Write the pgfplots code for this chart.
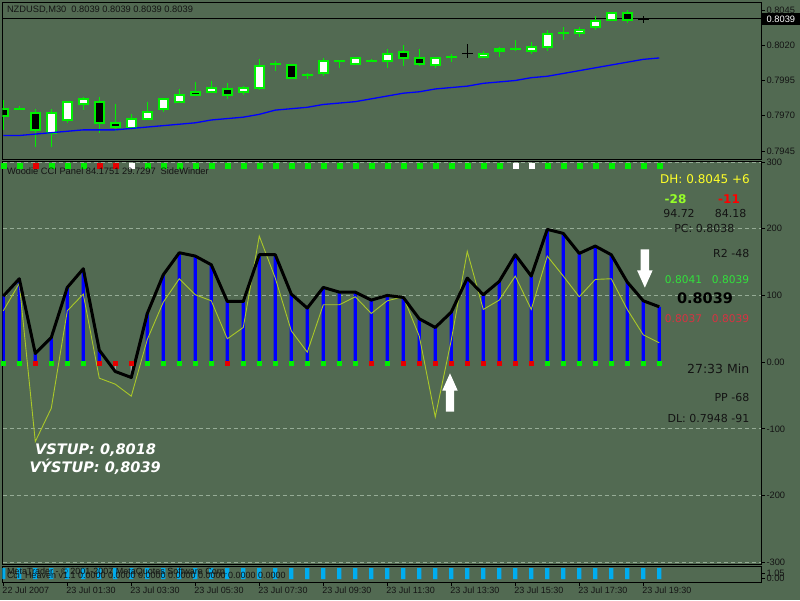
\documentclass[border=0pt]{standalone}
\usepackage{pgfplots}
\pgfplotsset{compat=1.18}
\usepackage{pgfplotstable}
\usepackage{fontspec}
\setmainfont{Liberation Sans}
\newfontfamily\dv{DejaVu Sans}

\definecolor{bg}{RGB}{82,106,82}
\definecolor{cgreen}{RGB}{0,240,0}
\definecolor{sqgreen}{RGB}{0,240,0}
\definecolor{sqred}{RGB}{230,0,0}
\definecolor{turbo}{RGB}{170,200,40}
\definecolor{gridc}{RGB}{150,172,150}
\definecolor{txt}{RGB}{20,20,20}
\definecolor{pcgreen}{RGB}{50,225,60}
\definecolor{pcred}{RGB}{215,50,65}
\definecolor{dhyellow}{RGB}{255,255,40}
\definecolor{lime28}{RGB}{150,255,40}

% signal arrows, 1pt = 1px
\pgfdeclareplotmark{arrowup}{%
  \pgfpathmoveto{\pgfqpoint{-4.2pt}{-19.2pt}}%
  \pgfpathlineto{\pgfqpoint{4.2pt}{-19.2pt}}%
  \pgfpathlineto{\pgfqpoint{4.2pt}{2pt}}%
  \pgfpathlineto{\pgfqpoint{7.7pt}{2pt}}%
  \pgfpathlineto{\pgfqpoint{0pt}{19.2pt}}%
  \pgfpathlineto{\pgfqpoint{-7.7pt}{2pt}}%
  \pgfpathlineto{\pgfqpoint{-4.2pt}{2pt}}%
  \pgfpathclose\pgfusepathqfill}
\pgfdeclareplotmark{arrowdown}{%
  \pgfpathmoveto{\pgfqpoint{-4.2pt}{19.2pt}}%
  \pgfpathlineto{\pgfqpoint{4.2pt}{19.2pt}}%
  \pgfpathlineto{\pgfqpoint{4.2pt}{-2pt}}%
  \pgfpathlineto{\pgfqpoint{7.7pt}{-2pt}}%
  \pgfpathlineto{\pgfqpoint{0pt}{-19.2pt}}%
  \pgfpathlineto{\pgfqpoint{-7.7pt}{-2pt}}%
  \pgfpathlineto{\pgfqpoint{-4.2pt}{-2pt}}%
  \pgfpathclose\pgfusepathqfill}

% candles: bar index, open, high, low, close
\pgfplotstableread{
k o h l c
1 0.7975 0.7977 0.7974 0.7975
3 0.7958 0.7975 0.7948 0.7972
4 0.7967 0.7980 0.7965 0.7980
5 0.7978 0.7983 0.7974 0.7982
8 0.7961 0.7971 0.7961 0.7968
9 0.7968 0.7980 0.7967 0.7973
10 0.7975 0.7982 0.7973 0.7982
11 0.7980 0.7989 0.7980 0.7985
13 0.7987 0.7995 0.7987 0.7990
15 0.7987 0.7991 0.7985 0.7990
16 0.7990 0.8010 0.7988 0.8005
17 0.8007 0.8009 0.8002 0.8007
19 0.7999 0.8000 0.7996 0.7999
20 0.8000 0.8011 0.7998 0.8009
21 0.8009 0.8009 0.8004 0.8009
22 0.8007 0.8012 0.8006 0.8011
23 0.8009 0.8010 0.8008 0.8009
24 0.8009 0.8017 0.8004 0.8014
27 0.8006 0.8012 0.8004 0.8011
28 0.8012 0.8014 0.8008 0.8012
30 0.8012 0.8016 0.8011 0.8014
31 0.8016 0.8019 0.8012 0.8017
32 0.8017 0.8024 0.8016 0.8017
33 0.8016 0.8022 0.8014 0.8019
34 0.8019 0.8031 0.8016 0.8028
35 0.8029 0.8033 0.8024 0.8029
36 0.8029 0.8033 0.8026 0.8031
37 0.8033 0.8041 0.8031 0.8037
38 0.8038 0.8043 0.8038 0.8043
}\bull
\pgfplotstableread{
k o h l c
0 0.7975 0.7981 0.7960 0.7970
2 0.7972 0.7975 0.7948 0.7960
6 0.7980 0.7983 0.7958 0.7965
7 0.7965 0.7978 0.7959 0.7962
12 0.7987 0.7994 0.7985 0.7985
14 0.7989 0.7993 0.7982 0.7985
18 0.8006 0.8006 0.7997 0.7997
25 0.8015 0.8020 0.8005 0.8011
26 0.8011 0.8017 0.8005 0.8007
39 0.8043 0.8045 0.8036 0.8038
}\bear
\pgfplotstableread{
k o h l c
29 0.8014 0.8021 0.8011 0.8014
40 0.8038 0.8041 0.8036 0.8038
}\doji
\pgfplotstableread{
k ma
0 0.7956
1 0.7956
2 0.7957
3 0.7958
4 0.7959
5 0.7960
6 0.7960
7 0.7960
8 0.7961
9 0.7962
10 0.7963
11 0.7964
12 0.7965
13 0.7967
14 0.7968
15 0.7969
16 0.7971
17 0.7974
18 0.7975
19 0.7976
20 0.7978
21 0.7979
22 0.7980
23 0.7982
24 0.7984
25 0.7986
26 0.7987
27 0.7989
28 0.7990
29 0.7991
30 0.7993
31 0.7994
32 0.7995
33 0.7997
34 0.7998
35 0.8000
36 0.8002
37 0.8004
38 0.8006
39 0.8008
40 0.8010
41 0.8011
}\ma
% Woodie CCI and turbo CCI
\pgfplotstableread{
k cci turbo
0 99 77
1 125 118
2 13 -119
3 37 -69
4 112 77
5 140 102
6 18 -24
7 -14 -33
8 -23 -51
9 73 34
10 131 90
11 164 125
12 159 101
13 146 92
14 91 35
15 91 52
16 161 189
17 161 126
18 102 47
19 81 15
20 112 86
21 105 86
22 105 98
23 93 73
24 100 92
25 97 98
26 65 39
27 52 -82
28 75 33
29 126 166
30 101 79
31 121 93
32 161 129
33 129 79
34 199 159
35 193 129
36 163 98
37 174 124
38 161 125
39 120 79
40 92 41
41 83 29
}\cci
% signal squares: top row (v=295) and zero row
\pgfplotstableread{
k c
0 g
1 g
2 r
3 g
4 g
5 g
6 r
7 r
8 w
9 g
10 g
11 g
12 g
13 g
14 g
15 g
16 g
17 g
18 g
19 g
20 g
21 g
22 g
23 g
24 g
25 g
26 g
27 g
28 g
29 g
30 g
31 g
32 w
33 w
34 g
35 g
36 g
37 g
38 g
39 g
40 g
41 g
}\sqtop
\pgfplotstableread{
k c
0 g
1 g
2 r
3 g
4 g
5 g
6 r
7 r
8 r
9 g
10 g
11 g
12 g
13 g
14 r
15 g
16 g
17 g
18 g
19 g
20 g
21 g
22 g
23 r
24 g
25 r
26 r
27 r
28 r
29 r
30 r
31 r
32 r
33 r
34 g
35 g
36 g
37 g
38 g
39 g
40 g
41 g
}\sqbot

\pgfplotsset{
  mtpanel/.style={
    scale only axis, width=758.5pt, anchor=north west,
    xmin=-0.05, xmax=47.36,
    axis line style={black, line width=0.9pt},
    tick style={black, line width=0.8pt},
    major tick length=4pt, tick align=outside,
    ytick pos=right, yticklabel pos=right,
    yticklabel style={font=\fontsize{9.3}{10}\selectfont, text=txt, xshift=-2pt},
    xtick=\empty,
  },
  wick/.style={only marks, mark size=0pt, mark options={draw=none, fill=none},
    error bars/.cd, y dir=plus, y explicit,
    error mark=none, error bar style={line width=1.2pt, color=#1}},
  body/.style 2 args={only marks, mark size=0pt, mark options={draw=none, fill=none},
    error bars/.cd, y dir=plus, y explicit,
    error mark=none, error bar style={line width=#1, color=#2}},
}

\begin{document}
\begin{tikzpicture}
\path[use as bounding box, fill=bg] (0pt,0pt) rectangle (800pt,-600pt);

% price panel
\begin{axis}[mtpanel, at={(2.5pt,-2.5pt)}, height=156.5pt,
  ymin=0.793933, ymax=0.805032, scaled y ticks=false,
  ytick={0.7945,0.7970,0.7995,0.8020,0.8045},
  yticklabels={0.7945,0.7970,0.7995,0.8020,0.8045}]
\addplot[black, line width=1pt] coordinates {(-1,0.8039) (48,0.8039)};
\addplot[wick=cgreen] table[x=k, y=l, y error plus expr={\thisrow{h}-\thisrow{l}}] {\bull};
\addplot[wick=cgreen] table[x=k, y=l, y error plus expr={\thisrow{h}-\thisrow{l}}] {\bear};
\addplot[wick=black] table[x=k, y=l, y error plus expr={\thisrow{h}-\thisrow{l}}] {\doji};
\addplot[body={10.7pt}{cgreen}] table[x=k, y expr={min(\thisrow{o},\thisrow{c})-0.00007},
  y error plus expr={abs(\thisrow{c}-\thisrow{o})+0.00014}] {\bull};
\addplot[body={10.7pt}{cgreen}] table[x=k, y expr={min(\thisrow{o},\thisrow{c})-0.00007},
  y error plus expr={abs(\thisrow{c}-\thisrow{o})+0.00014}] {\bear};
\addplot[body={6.7pt}{white}] table[x=k, y expr={min(\thisrow{o},\thisrow{c})+0.00007},
  y error plus expr={max(abs(\thisrow{c}-\thisrow{o})-0.00014,0)}] {\bull};
\addplot[body={6.7pt}{black}] table[x=k, y expr={min(\thisrow{o},\thisrow{c})+0.00007},
  y error plus expr={max(abs(\thisrow{c}-\thisrow{o})-0.00014,0)}] {\bear};
\addplot[body={10.7pt}{black}] table[x=k, y expr={\thisrow{c}-0.00004},
  y error plus expr={0.00008}] {\doji};
\addplot[blue, line width=1.3pt] table[x=k, y=ma] {\ma};
\end{axis}

% Woodie CCI panel
\begin{axis}[mtpanel, at={(2.5pt,-161pt)}, height=403.5pt,
  ymin=-303.3, ymax=301.5,
  ytick={-300,-200,-100,100,200,300},
  yticklabels={-300,-200,-100,100,200,300},
  ymajorgrids, major grid style={gridc, line width=0.8pt, dash pattern=on 4pt off 3pt},
  extra y ticks={0}, extra y tick labels={0.00},
  extra y tick style={grid=none}]
\addplot[ybar, bar width=3.3pt, bar shift=0pt, fill=blue, draw=none,
  restrict y to domain=0:400] table[x=k, y=cci] {\cci};
\addplot[ybar, bar width=1.4pt, bar shift=0pt, fill=gray!70, draw=none,
  restrict y to domain=-400:0] table[x=k, y=cci] {\cci};
\addplot[turbo, line width=0.9pt] table[x=k, y=turbo] {\cci};
\addplot[black, line width=3pt, line join=round] table[x=k, y=cci] {\cci};
\addplot[scatter, only marks, scatter src=explicit symbolic,
  scatter/classes={g={mark=square*, sqgreen}, r={mark=square*, sqred}, w={mark=square*, white}},
  mark size=2.5pt] table[x=k, y expr=295, meta=c] {\sqtop};
\addplot[scatter, only marks, scatter src=explicit symbolic,
  scatter/classes={g={mark=square*, sqgreen}, r={mark=square*, sqred}, w={mark=square*, white}},
  mark size=2.2pt] table[x=k, y expr=-2, meta=c] {\sqbot};
\addplot[only marks, mark=arrowdown, white] coordinates {(40.1,140.4)};
\addplot[only marks, mark=arrowup, white] coordinates {(27.92,-45.5)};
\end{axis}

% bottom histogram panel
\begin{axis}[mtpanel, at={(2.5pt,-566pt)}, height=16pt,
  ymin=-0.2727, ymax=1.1818,
  ytick={0.045,0.518}, yticklabels={0.00,1.05},
  xtick={0,4,...,40}, xtick pos=bottom,
  xticklabels={22 Jul 2007,23 Jul 01:30,23 Jul 03:30,23 Jul 05:30,23 Jul 07:30,
    23 Jul 09:30,23 Jul 11:30,23 Jul 13:30,23 Jul 15:30,23 Jul 17:30,23 Jul 19:30},
  xticklabel style={font=\fontsize{9}{10}\selectfont, text=txt, anchor=north west,
    xshift=-2pt, inner sep=1pt}]
\addplot[ybar, bar width=4.3pt, bar shift=0pt, fill=cyan, draw=none] coordinates {
(0,1) (1,1) (2,1) (3,1) (4,1) (5,1) (6,1) (7,1) (8,1) (9,1) (10,1) (11,1) (12,1) (13,1)
(14,1) (15,1) (16,1) (17,1) (18,1) (19,1) (20,1) (21,1) (22,1) (23,1) (24,1) (25,1) (26,1)
(27,1) (28,1) (29,1) (30,1) (31,1) (32,1) (33,1) (34,1) (35,1) (36,1) (37,1) (38,1) (39,1)
(40,1) (41,1)};
\end{axis}

% labels
\node[anchor=west, inner sep=0pt, text=txt, font=\fontsize{9.3}{10}\selectfont] at (6.8pt,-10.3pt)
  {NZDUSD,M30\hspace{5pt}0.8039 0.8039 0.8039 0.8039};
\node[anchor=west, inner sep=1.5pt, fill=black, text=white, minimum width=38pt, minimum height=12pt,
  font=\fontsize{9.3}{10}\selectfont] at (761.7pt,-19.3pt) {0.8039};
\node[anchor=west, inner sep=0pt, text=txt, font=\fontsize{9.3}{10}\selectfont] at (6.8pt,-171.5pt)
  {Woodie CCI Panel 84.1751 29.7297\hspace{5pt}SideWinder};

\node[anchor=east, inner sep=0pt, text=dhyellow, font=\dv\fontsize{12}{14}\selectfont] at (750pt,-179pt) {DH: 0.8045 +6};
\node[inner sep=0pt, text=lime28, font=\dv\bfseries\fontsize{12}{14}\selectfont] at (675.5pt,-199.5pt) {-28};
\node[inner sep=0pt, text=red, font=\dv\bfseries\fontsize{12}{14}\selectfont] at (729pt,-199.5pt) {-11};
\node[inner sep=0pt, text=txt, font=\dv\fontsize{11}{13}\selectfont] at (679pt,-213.3pt) {94.72};
\node[inner sep=0pt, text=txt, font=\dv\fontsize{11}{13}\selectfont] at (730.5pt,-213.3pt) {84.18};
\node[anchor=east, inner sep=0pt, text=txt, font=\dv\fontsize{11}{13}\selectfont] at (734.5pt,-228.8pt) {PC: 0.8038};
\node[anchor=east, inner sep=0pt, text=txt, font=\dv\fontsize{11}{13}\selectfont] at (749.5pt,-253pt) {R2 -48};
\node[inner sep=0pt, text=pcgreen, font=\dv\fontsize{10.6}{12}\selectfont] at (683.5pt,-280pt) {0.8041};
\node[inner sep=0pt, text=pcgreen, font=\dv\fontsize{10.6}{12}\selectfont] at (730.5pt,-280pt) {0.8039};
\node[inner sep=0pt, text=black, font=\dv\bfseries\fontsize{14.5}{16}\selectfont] at (705pt,-298.5pt) {0.8039};
\node[inner sep=0pt, text=pcred, font=\dv\fontsize{10.6}{12}\selectfont] at (683.5pt,-318.5pt) {0.8037};
\node[inner sep=0pt, text=pcred, font=\dv\fontsize{10.6}{12}\selectfont] at (730.5pt,-318.5pt) {0.8039};
\node[anchor=east, inner sep=0pt, text=txt, font=\dv\fontsize{12.5}{14}\selectfont] at (749.5pt,-368.5pt) {27:33 Min};
\node[anchor=east, inner sep=0pt, text=txt, font=\dv\fontsize{11}{13}\selectfont] at (749.5pt,-397pt) {PP -68};
\node[anchor=east, inner sep=0pt, text=txt, font=\dv\fontsize{11}{13}\selectfont] at (749.5pt,-418pt) {DL: 0.7948 -91};

\node[anchor=west, inner sep=0pt, text=white, font=\dv\bfseries\itshape\fontsize{14.5}{16}\selectfont] at (35pt,-450pt) {VSTUP: 0,8018};
\node[anchor=west, inner sep=0pt, text=white, font=\dv\bfseries\itshape\fontsize{14.5}{16}\selectfont] at (29.3pt,-466.5pt) {VÝSTUP: 0,8039};

\node[anchor=west, inner sep=0pt, text=txt, font=\fontsize{9}{10}\selectfont] at (6.8pt,-572pt)
  {MetaTrader - © 2001-2007 MetaQuotes Software Corp.};
\node[anchor=west, inner sep=0pt, text=txt, font=\fontsize{9}{10}\selectfont] at (6.8pt,-576.5pt)
  {Cci\_Heaven v1.1 0.0000 0.0000 0.0000 0.0000 0.0000 0.0000 0.0000};
\end{tikzpicture}
\end{document}
